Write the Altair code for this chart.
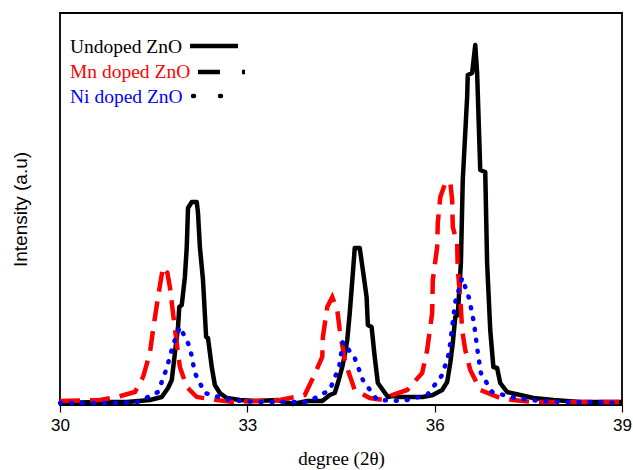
import altair as alt
import pandas as pd

# XRD scans (2θ in degrees, intensity in arbitrary units)
undoped_deg = [30.00, 30.64, 31.07, 31.44, 31.63, 31.73, 31.79, 31.84, 31.89, 31.91, 31.95, 32.00,
               32.03, 32.05, 32.11, 32.19, 32.21, 32.24, 32.29, 32.34, 32.37, 32.43, 32.48, 32.56,
               32.67, 32.88, 33.15, 33.48, 33.73, 33.96, 34.20, 34.32, 34.40, 34.45, 34.52, 34.56,
               34.60, 34.64, 34.69, 34.72, 34.80, 34.85, 34.91, 34.93, 34.99, 35.04, 35.09, 35.17,
               35.25, 35.32, 35.45, 35.65, 35.81, 35.97, 36.12, 36.20, 36.25, 36.29, 36.33, 36.37,
               36.42, 36.45, 36.52, 36.53, 36.60, 36.65, 36.68, 36.73, 36.81, 36.84, 36.89, 36.94,
               37.00, 37.05, 37.16, 37.37, 37.58, 37.90, 38.33, 39.00]
undoped_int = [2, 3, 3, 5, 8, 17, 25, 52, 78, 98, 100, 128,
               158, 197, 203, 203, 192, 158, 125, 68, 67, 38, 20, 12,
               7, 5, 4, 5, 1, 4, 4, 10, 12, 22, 38, 50,
               65, 92, 132, 157, 157, 135, 108, 80, 78, 48, 22, 15,
               8, 9, 8, 8, 8, 10, 15, 23, 42, 62, 88, 90,
               142, 225, 308, 330, 332, 360, 332, 235, 233, 142, 75, 38,
               37, 22, 13, 10, 7, 5, 3, 3]

mn_deg = [30.00, 30.64, 30.91, 31.20, 31.33, 31.44, 31.49, 31.57, 31.65, 31.72, 31.76, 31.81,
          31.89, 31.92, 32.03, 32.19, 32.51, 32.77, 33.52, 33.92, 34.05, 34.20, 34.21, 34.28,
          34.36, 34.44, 34.48, 34.56, 34.61, 34.72, 34.96, 35.17, 35.32, 35.56, 35.80, 35.88,
          35.96, 35.97, 36.04, 36.05, 36.09, 36.17, 36.25, 36.28, 36.29, 36.36, 36.37, 36.41,
          36.44, 36.49, 36.57, 36.73, 37.01, 37.25, 37.57, 39.00]
mn_int = [4, 5, 8, 13, 28, 52, 75, 108, 138, 132, 118, 92,
          52, 38, 18, 8, 5, 3, 5, 10, 27, 48, 68, 98,
          108, 95, 75, 45, 35, 15, 7, 5, 10, 15, 32, 55,
          92, 125, 158, 182, 208, 222, 223, 205, 178, 162, 135, 108,
          75, 55, 35, 15, 8, 5, 3, 3]

ni_deg = [30.00, 30.40, 30.83, 31.25, 31.57, 31.71, 31.81, 31.92, 32.08, 32.16, 32.32, 32.72,
          33.15, 33.52, 33.97, 34.32, 34.47, 34.53, 34.72, 34.85, 35.08, 35.49, 35.88, 36.12,
          36.23, 36.28, 36.33, 36.44, 36.55, 36.63, 36.68, 36.74, 36.92, 37.29, 37.69, 38.12,
          38.52, 39.00]
ni_int = [2, 2, 2, 3, 13, 37, 60, 78, 58, 32, 12, 5,
          3, 3, 3, 15, 38, 63, 47, 25, 5, 4, 10, 30,
          52, 78, 103, 127, 107, 82, 57, 32, 13, 7, 4, 3,
          3, 2]

x_ticks = [30, 33, 36, 39]

undoped = pd.DataFrame({"deg": undoped_deg, "inten": undoped_int})
mn = pd.DataFrame({"deg": mn_deg, "inten": mn_int})
ni = pd.DataFrame({"deg": ni_deg, "inten": ni_int})

x_enc = alt.X(
    "deg:Q",
    scale=alt.Scale(domain=[30, 39], nice=False, zero=False),
    axis=alt.Axis(
        values=x_ticks, format="d", title="degree (2θ)", grid=False,
        domain=False, tickColor="black", tickSize=7, tickWidth=1.2,
        labelFont="Liberation Sans", labelFontSize=17, labelColor="black", labelPadding=5,
        labelFlush=False, labelAlign="center",
        titleFont="Liberation Serif", titleFontSize=19, titleFontWeight="normal",
        titleColor="black", titlePadding=16,
    ),
)
y_enc = alt.Y(
    "inten:Q",
    scale=alt.Scale(domain=[0, 392], nice=False),
    axis=alt.Axis(
        title="Intensity (a.u)", labels=False, ticks=False, domain=False, grid=False,
        titleFont="Liberation Sans", titleFontSize=19, titleFontWeight="normal",
        titleColor="black", titlePadding=30,
    ),
)

black_line = alt.Chart(undoped).mark_line(
    color="black", strokeWidth=4.5, strokeJoin="round"
).encode(x=x_enc, y=y_enc)

red_line = alt.Chart(mn).mark_line(
    color="#ff0000", strokeWidth=4.5, strokeDash=[20, 10]
).encode(x=x_enc, y=y_enc)

blue_line = alt.Chart(ni).mark_line(
    color="#0000ff", strokeWidth=4.5, strokeDash=[1, 10], strokeCap="round"
).encode(x=x_enc, y=y_enc)

# legend: text on the left, line sample on the right
legend_labels = ["Undoped ZnO", "Mn doped ZnO", "Ni doped ZnO"]
legend_colors = ["black", "#ff0000", "#0000ff"]
legend_rows = [40, 65, 90]

legend_text = []
for lab, col, yy in zip(legend_labels, legend_colors, legend_rows):
    legend_text.append(
        alt.Chart(pd.DataFrame({"t": [lab]})).mark_text(
            font="Liberation Serif", fontSize=19.5, color=col, align="left", baseline="alphabetic"
        ).encode(x=alt.value(10), y=alt.value(yy), text="t:N")
    )

sample_black = alt.Chart(pd.DataFrame({"k": [0]})).mark_rule(
    color="black", strokeWidth=4.5
).encode(x=alt.value(130), x2=alt.value(178), y=alt.value(33))

sample_red = alt.Chart(pd.DataFrame({"k": [0]})).mark_rule(
    color="black", strokeWidth=4.5, strokeDash=[22, 22, 3, 30]
).encode(x=alt.value(138), x2=alt.value(187), y=alt.value(59))

sample_blue = alt.Chart(pd.DataFrame({"k": [0]})).mark_rule(
    color="black", strokeWidth=4.5, strokeDash=[1, 26], strokeCap="round"
).encode(x=alt.value(133), x2=alt.value(165), y=alt.value(83))

chart = alt.layer(
    black_line, red_line, blue_line, *legend_text, sample_black, sample_red, sample_blue
).properties(
    width=562, height=392,
    padding={"left": 60, "top": 13, "right": 11, "bottom": 65},
    autosize=alt.AutoSizeParams(type="none"),
    background="white",
).configure_view(
    stroke="black", strokeWidth=1.8
)

chart.save("out.html", embed_options={"renderer": "svg", "actions": False})
